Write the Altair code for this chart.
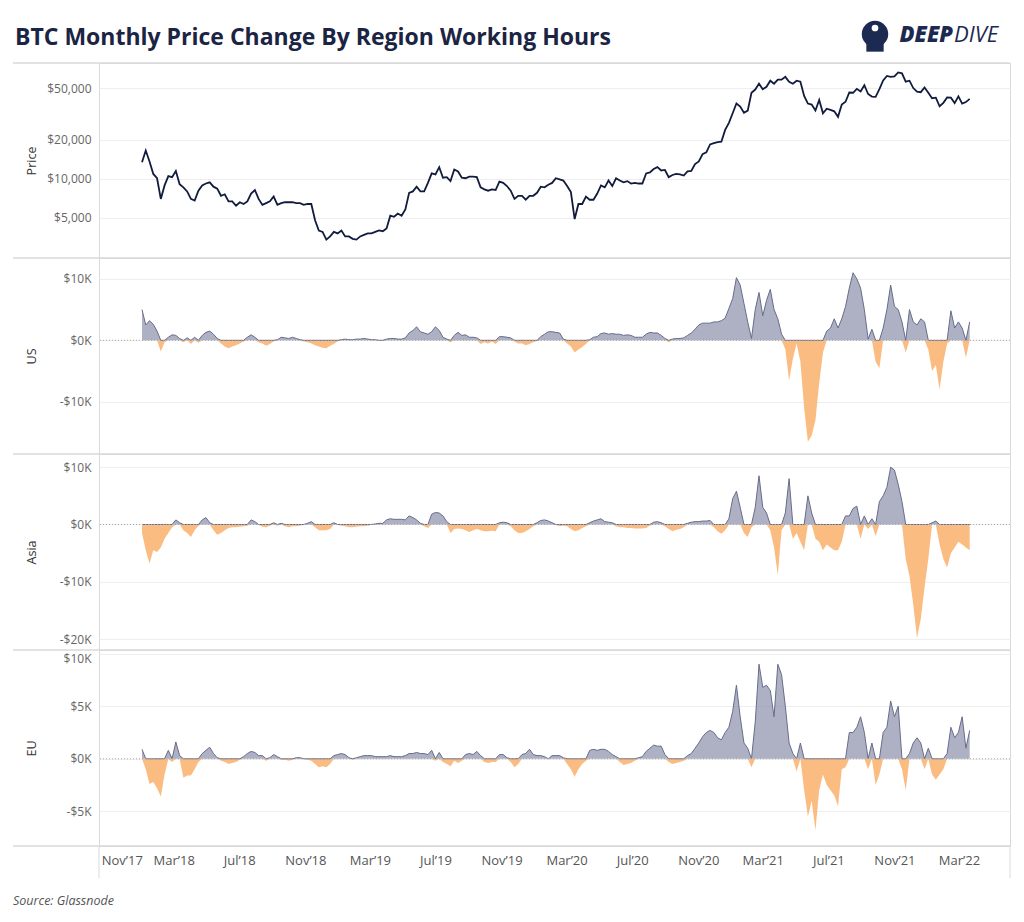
import altair as alt
import pandas as pd

# ---------------- data (weekly samples, starting 2018-01-01) ----------------
START = "2018-01-01"

price_2018 = [13400, 16500, 13600, 10900, 10100, 7000, 8900, 10500, 10300, 11500, 9100, 8600, 8000,
              7000, 6800, 8100, 8900, 9200, 9400, 8700, 8400, 7400, 7600, 6700, 6700, 6200,
              6600, 6400, 6700, 7700, 8200, 7000, 6300, 6500, 6700, 7300, 6300, 6500, 6600,
              6600, 6600, 6500, 6500, 6300, 6400, 6400, 4800, 4000, 3900, 3400, 3600, 3900, 3800]
price_2019 = [4000, 3600, 3600, 3450, 3400, 3600, 3700, 3800, 3800, 3900, 4000, 3950,
              4150, 5200, 5100, 5400, 5200, 5800, 7800, 8000, 8700, 8000, 8000, 9300, 11000,
              10800, 12300, 10200, 10300, 9600, 11800, 11400, 10200, 10100, 10400, 10400, 10300, 8600, 8300,
              8100, 8300, 8200, 9500, 9300, 8800, 8100, 7000, 7400, 7400, 6900, 7400, 7400]
price_2020 = [7800, 8700, 8600, 9000, 9300, 10100, 9900, 9700, 8800, 7900, 4900, 6400, 6400,
              7300, 6900, 6900, 7700, 8900, 8600, 9700, 8800, 10100, 9700, 9400, 9600, 9200,
              9300, 9200, 9200, 11000, 11200, 11900, 12300, 11600, 11700, 10300, 10700, 10900, 10800,
              10600, 11400, 11500, 13000, 13600, 15500, 16000, 18400, 18800, 19200, 19300, 23800, 27000]
price_2021 = [32000, 38000, 36000, 32300, 33500, 46000, 48700, 54100, 49000, 51200, 57000, 54000, 58000,
              58000, 61000, 56000, 54000, 57000, 56000, 43500, 38000, 37300, 33600, 40500, 32000, 34700,
              34000, 33100, 30000, 37300, 39200, 46200, 46000, 49300, 47000, 52600, 45000, 43000, 42800,
              49000, 57300, 62000, 60900, 61500, 66000, 65000, 56000, 57000, 50000, 47000, 46500, 50500]
price_2022 = [46000, 41800, 42200, 36200, 38500, 42400, 42200, 38300, 43200, 38000, 39000, 41300]

# monthly price change during each region's working hours, thousands of USD
us_2018 = [5.0, 2.5, 3.2, 2.6, 1.5, -1.8, -0.3, 0.5, 0.9, 0.8, 0.3, -0.3, 0.4,
           -0.6, 0.5, -0.4, 0.8, 1.3, 1.5, 1.0, 0.3, -0.5, -1.0, -1.3, -1.0, -0.8,
           -0.5, -0.2, 0.5, 0.9, 0.5, -0.3, -0.5, -0.9, -0.6, -0.2, 0.1, 0.5, 0.4,
           0.3, 0.5, 0.3, 0.1, -0.2, -0.3, -0.5, -0.8, -1.0, -1.2, -1.3, -0.9, -0.6, -0.2]
us_2019 = [0.1, 0.2, 0.1, 0.1, 0.2, 0.2, 0.3, 0.2, 0.1, 0.1, 0.0, -0.1,
           0.2, 0.3, 0.3, 0.2, 0.2, 0.4, 1.2, 1.6, 2.2, 1.4, 1.2, 1.0, 1.4,
           2.2, 1.6, 0.5, 0.2, -0.3, 0.8, 1.3, 0.8, 0.9, 0.5, 0.5, 0.4, -0.6, -0.3,
           -0.5, -0.2, -0.6, 0.6, 0.6, 0.5, 0.4, -0.2, -0.5, -0.5, -0.8, -0.6, -0.3]
us_2020 = [-0.1, 0.6, 1.0, 1.4, 1.4, 1.3, 1.2, 0.2, -0.5, -1.0, -2.0, -1.5, -1.1,
           -0.6, 0.1, 0.5, 0.6, 1.1, 1.2, 1.0, 1.1, 1.0, 1.0, 0.8, 0.9, 0.8,
           0.5, 0.5, 0.5, 1.0, 1.3, 1.2, 1.2, 0.8, 0.3, -0.3, 0.2, 0.3, 0.3,
           0.4, 0.8, 1.2, 1.8, 2.5, 2.8, 2.8, 2.8, 3.0, 3.0, 3.2, 3.6, 5.2]
us_2021 = [6.8, 10.2, 9.0, 6.0, 3.0, 0.3, 5.0, 7.8, 4.0, 6.5, 8.3, 5.0, 3.5,
           1.0, -1.5, -6.5, -3.0, -0.5, -3.5, -11.0, -16.5, -15.5, -13.0, -7.0, -2.0, 1.5,
           2.0, 3.5, 2.0, 3.5, 5.5, 8.5, 11.0, 10.0, 8.5, 5.0, 0.2, 1.8, -3.5,
           -4.5, 2.0, 5.0, 9.0, 5.5, 5.0, 3.0, -2.0, 5.0, 3.0, 2.5, 3.5, 3.0]
us_2022 = [-1.5, -5.0, -4.0, -8.0, -3.5, -0.5, 4.8, 2.0, 3.0, 2.0, -2.8, 3.0]

asia_2018 = [-1.5, -4.5, -6.8, -4.5, -4.8, -4.0, -2.5, -1.5, -0.5, 0.8, 0.3, -1.0, -1.5,
             -2.2, -1.0, -0.2, 0.8, 1.2, 0.3, -1.0, -1.8, -1.5, -1.0, -0.6, -0.5, -0.5,
             -0.4, -0.3, -0.2, 0.8, 0.5, -0.1, -0.4, -0.5, -0.2, 0.3, -0.2, 0.2, -0.3,
             -0.5, -0.3, -0.3, -0.2, -0.1, 0.2, 0.5, -0.5, -1.0, -1.0, -1.0, -0.8, 0.3, -0.1]
asia_2019 = [-0.2, -0.3, -0.5, -0.5, -0.4, -0.3, -0.3, -0.2, -0.1, 0.1, 0.2, 0.2,
             0.8, 1.0, 0.9, 0.9, 0.9, 0.8, 1.5, 1.2, 0.8, 0.2, -0.3, -0.6, 1.8,
             2.1, 2.0, 1.5, 0.5, -1.5, -0.8, -0.7, -0.8, -1.0, -1.3, -1.0, -0.8, -1.0, -1.2,
             -1.2, -1.1, -1.2, 0.3, 0.4, 0.3, -0.3, -1.0, -1.5, -1.5, -1.2, -0.8, -0.3]
asia_2020 = [0.3, 0.7, 0.8, 0.6, 0.3, -0.1, -0.3, -0.2, -0.3, -0.8, -1.2, -1.0, -0.6,
             -0.3, 0.3, 0.6, 0.8, 1.0, 0.5, 0.4, 0.3, -0.3, -0.5, -0.5, -0.6, -0.6,
             -0.7, -0.7, -0.7, -0.6, -0.2, 0.4, 0.5, 0.3, -0.3, -0.8, -1.2, -0.9, -0.8,
             -0.5, 0.2, 0.4, 0.5, 0.5, 0.6, 0.6, 0.7, -0.5, -1.2, -1.6, -1.0, 1.0]
asia_2021 = [4.5, 5.8, 3.0, -1.5, -2.2, -0.5, 3.0, 8.5, 3.0, 2.0, -1.0, -4.0, -8.8,
             -1.0, 2.0, 8.0, -2.5, -1.5, -3.0, -4.5, 5.0, 2.0, -2.5, -3.0, -4.5, -3.5,
             -4.0, -4.5, -4.5, -3.0, 1.5, 1.5, 2.8, 3.2, -2.5, 1.5, -0.8, 1.0, -2.0,
             4.0, 5.0, 6.5, 10.0, 9.5, 7.0, 4.0, -6.0, -9.0, -14.0, -19.8, -16.5, -11.0]
asia_2022 = [-6.0, 0.3, 0.6, -3.5, -6.0, -7.5, -5.0, -4.0, -3.0, -3.5, -4.0, -4.5]

eu_2018 = [0.9, -1.0, -2.4, -2.2, -2.8, -3.6, -1.5, 0.8, -0.3, 1.6, 0.3, -1.8, -1.6,
           -1.6, -1.0, -0.3, 0.5, 0.8, 1.1, 0.5, 0.1, -0.2, -0.3, -0.5, -0.4, -0.3,
           -0.1, 0.2, 0.5, 0.7, 0.6, 0.3, 0.3, -0.2, 0.1, 0.4, 0.2, -0.1, -0.1,
           -0.2, -0.1, 0.1, 0.1, 0.0, -0.1, -0.2, -0.5, -0.8, -0.7, -0.8, -0.5, 0.3, 0.4]
eu_2019 = [0.5, 0.4, 0.1, -0.1, 0.1, 0.2, 0.3, 0.3, 0.3, 0.2, 0.2, 0.2,
           0.2, 0.3, 0.2, 0.2, 0.2, 0.3, 0.5, 0.5, 0.6, 0.5, 0.5, 0.4, 0.8,
           -0.2, 0.6, -0.3, -0.5, -0.7, -0.2, -0.4, -0.2, 0.4, 0.5, 0.4, 0.7, 0.3, -0.3,
           -0.4, -0.3, -0.3, 0.4, 0.4, 0.1, -0.3, -0.8, -0.5, 0.4, 0.5, 0.9, 0.4]
eu_2020 = [0.3, 0.3, 0.2, 0.0, 0.3, 0.3, 0.3, 0.1, -0.5, -1.0, -1.7, -1.0, -0.5,
           -0.2, 0.8, 0.9, 0.8, 0.9, 0.9, 0.7, 0.4, 0.2, -0.3, -0.6, -0.5, -0.4,
           -0.2, 0.1, 0.2, 0.7, 1.0, 1.3, 1.2, 1.2, 0.4, -0.3, -0.5, -0.4, -0.3,
           -0.2, 0.3, 0.5, 1.0, 1.5, 2.1, 2.5, 2.7, 2.5, 2.0, 1.8, 2.5, 3.0]
eu_2021 = [4.5, 7.0, 4.0, 1.5, 1.0, -0.8, 3.5, 9.0, 6.8, 7.0, 6.5, 4.0, 9.0,
           8.0, 5.0, 1.5, 0.5, -1.2, 1.5, -3.0, -5.5, -4.0, -6.8, -3.0, -1.5, -2.5,
           -3.0, -3.5, -4.5, -1.0, -0.8, 2.5, 2.5, 3.0, 4.0, 2.5, -1.0, 1.5, -2.5,
           -1.5, 2.5, 3.0, 5.5, 4.0, 5.0, -1.0, -3.0, 0.5, 1.5, 2.0, 1.5, -1.0]
eu_2022 = [1.0, -1.5, -2.0, -1.5, -1.0, 0.5, 3.0, 2.0, 2.5, 4.0, 1.0, 2.7]

price = price_2018 + price_2019 + price_2020 + price_2021 + price_2022
us = us_2018 + us_2019 + us_2020 + us_2021 + us_2022
asia = asia_2018 + asia_2019 + asia_2020 + asia_2021 + asia_2022
eu = eu_2018 + eu_2019 + eu_2020 + eu_2021 + eu_2022

dates = pd.date_range(START, periods=len(price), freq="7D").strftime("%Y-%m-%d").tolist()

x_ticks = [(2017, 11), (2018, 3), (2018, 7), (2018, 11), (2019, 3), (2019, 7), (2019, 11),
           (2020, 3), (2020, 7), (2020, 11), (2021, 3), (2021, 7), (2021, 11), (2022, 3)]

# ---------------- style ----------------
FONT = "Open Sans"
W = 911
NAVY = "#111b3d"
LOGO = "#1c2a52"
POS = "#8b90a9"
POS_LINE = "#676d8a"
NEG = "#fbb87b"
SEP = "#d9d9d9"

xscale = alt.Scale(type="utc", domain=[alt.DateTime(year=2017, month=10, date=13, utc=True),
                                       alt.DateTime(year=2022, month=6, date=4, utc=True)])
xaxis = alt.Axis(values=[alt.DateTime(year=y, month=m, date=1, utc=True) for y, m in x_ticks],
                 format="%b\u2019%y", grid=False, ticks=False, tickSize=0, domain=False,
                 labelPadding=8, labelFontSize=13, labelColor="#555555", labelFlush=15,
                 labelFlushOffset=8, labelOverlap=False, title=None)

one = pd.DataFrame({"k": [0]})


def sep_rules(h, bottom=False):
    layers = [alt.Chart(one).mark_rule(color=SEP, strokeWidth=1.5).encode(
        x=alt.value(-86), x2=alt.value(W), y=alt.value(0))]
    if bottom:
        layers.append(alt.Chart(one).mark_rule(color=SEP, strokeWidth=1.5).encode(
            x=alt.value(-86), x2=alt.value(W), y=alt.value(h)))
        layers.append(alt.Chart(one).mark_rule(color=SEP, strokeWidth=1).encode(
            x=alt.value(0), y=alt.value(h), y2=alt.value(h + 32)))
        layers.append(alt.Chart(one).mark_rule(color=SEP, strokeWidth=1).encode(
            x=alt.value(W), y=alt.value(h), y2=alt.value(h + 32)))
    return layers


def yaxis(title, h, values, fmt=None, label_expr=None, flush=None):
    kw = dict(values=values, grid=True, ticks=False, domain=False, labelPadding=8,
              title=title, titleX=-68, titleY=h / 2, titleAngle=270, titleAlign="center",
              titleBaseline="middle")
    if fmt:
        kw["format"] = fmt
    if label_expr:
        kw["labelExpr"] = label_expr
    if flush:
        kw["labelFlush"] = flush
    return alt.Axis(**kw)


# ---------------- price panel ----------------
HP = 195
price_df = pd.DataFrame({"date": dates, "price": price})
p_axis = yaxis("Price", HP, [5000, 10000, 20000, 50000], fmt="$,.0f")
price_line = alt.Chart(price_df).mark_line(color=NAVY, strokeWidth=1.8).encode(
    x=alt.X("date:T", scale=xscale, axis=None),
    y=alt.Y("price:Q", scale=alt.Scale(type="log", domain=[2455, 78000], nice=False), axis=p_axis),
)
anchor = alt.Chart(one).mark_rule(color="white", opacity=0, strokeWidth=1).encode(
    x=alt.value(-90), x2=alt.value(-89), y=alt.value(-54))
title = alt.Chart(one).mark_text(text="BTC Monthly Price Change By Region Working Hours", align="left",
                                 baseline="middle", font=FONT, fontSize=23, fontWeight="bold",
                                 color="#1b2442").encode(x=alt.value(-84), y=alt.value(-25))
logo_circle = alt.Chart(one).mark_point(shape="circle", filled=True, size=700, color=LOGO,
                                        opacity=1).encode(x=alt.value(776), y=alt.value(-29))
logo_base = alt.Chart(one).mark_point(shape="square", filled=True, size=300, color=LOGO,
                                      opacity=1).encode(x=alt.value(776), y=alt.value(-20))
logo_window = alt.Chart(one).mark_point(shape="circle", filled=True, size=45, color="white",
                                        opacity=1).encode(x=alt.value(776), y=alt.value(-35))
logo_deep = alt.Chart(one).mark_text(text="DEEP", align="right", baseline="middle", font=FONT,
                                     fontSize=22, fontWeight=800, fontStyle="italic",
                                     color=LOGO).encode(x=alt.value(854), y=alt.value(-28))
logo_dive = alt.Chart(one).mark_text(text="DIVE", align="left", baseline="middle", font=FONT,
                                     fontSize=22, fontWeight="normal", fontStyle="italic",
                                     color=LOGO).encode(x=alt.value(855), y=alt.value(-28))

price_panel = alt.layer(price_line, *sep_rules(HP), anchor, title, logo_circle, logo_base, logo_window,
                        logo_deep, logo_dive).properties(width=W, height=HP)

# ---------------- region panels ----------------
K_EXPR = "(datum.value < 0 ? '-$' : '$') + format(abs(datum.value), 'd') + 'K'"


def region_panel(name, vals, domain, ticks, last=False, flush=None, source=False):
    h = 196
    df = pd.DataFrame({"date": dates,
                       "pos": [max(v, 0) for v in vals],
                       "neg": [min(v, 0) for v in vals]})
    ys = alt.Scale(domain=domain, nice=False, zero=False)
    ax = yaxis(name, h, ticks, label_expr=K_EXPR, flush=flush)
    x = alt.X("date:T", scale=xscale, axis=xaxis if last else None, title=None)
    neg = alt.Chart(df).mark_area(color=NEG, opacity=0.95).encode(
        x=x, y=alt.Y("neg:Q", scale=ys, axis=ax, title=name))
    pos = alt.Chart(df).mark_area(color=POS, line={"color": POS_LINE, "strokeWidth": 1}).encode(
        x=x, y=alt.Y("pos:Q", scale=ys, axis=ax, title=name))
    zero = alt.Chart(one).mark_rule(color="#a8a8a8", strokeDash=[1, 2], strokeWidth=1).encode(
        y=alt.datum(0))
    layers = [neg, pos, zero] + sep_rules(h, bottom=last)
    if source:
        layers.append(alt.Chart(one).mark_text(text="Source: Glassnode", align="left", baseline="middle",
                                               font=FONT, fontSize=12.5, fontStyle="italic",
                                               color="#555555").encode(x=alt.value(-86), y=alt.value(251)))
    return alt.layer(*layers).properties(width=W, height=h)


us_panel = region_panel("US", us, [-18.5, 13.4], [-10, 0, 10])
asia_panel = region_panel("Asia", asia, [-21.9, 12.3], [-20, -10, 0, 10])
eu_panel = region_panel("EU", eu, [-8.3, 10.35], [-5, 0, 5, 10], last=True, flush=8, source=True)

chart = alt.vconcat(price_panel, us_panel, asia_panel, eu_panel, spacing=0, bounds="flush").properties(
    padding=0, background="white"
).configure_view(stroke=SEP, strokeWidth=1).configure_axis(
    labelFont=FONT, titleFont=FONT, labelFontSize=12, labelColor="#666666",
    titleFontSize=12.5, titleFontWeight="normal", titleColor="#333333",
    gridColor="#eeeeee", gridWidth=1,
).configure_text(font=FONT)

chart.save("out.html", embed_options={"renderer": "svg", "actions": False})
